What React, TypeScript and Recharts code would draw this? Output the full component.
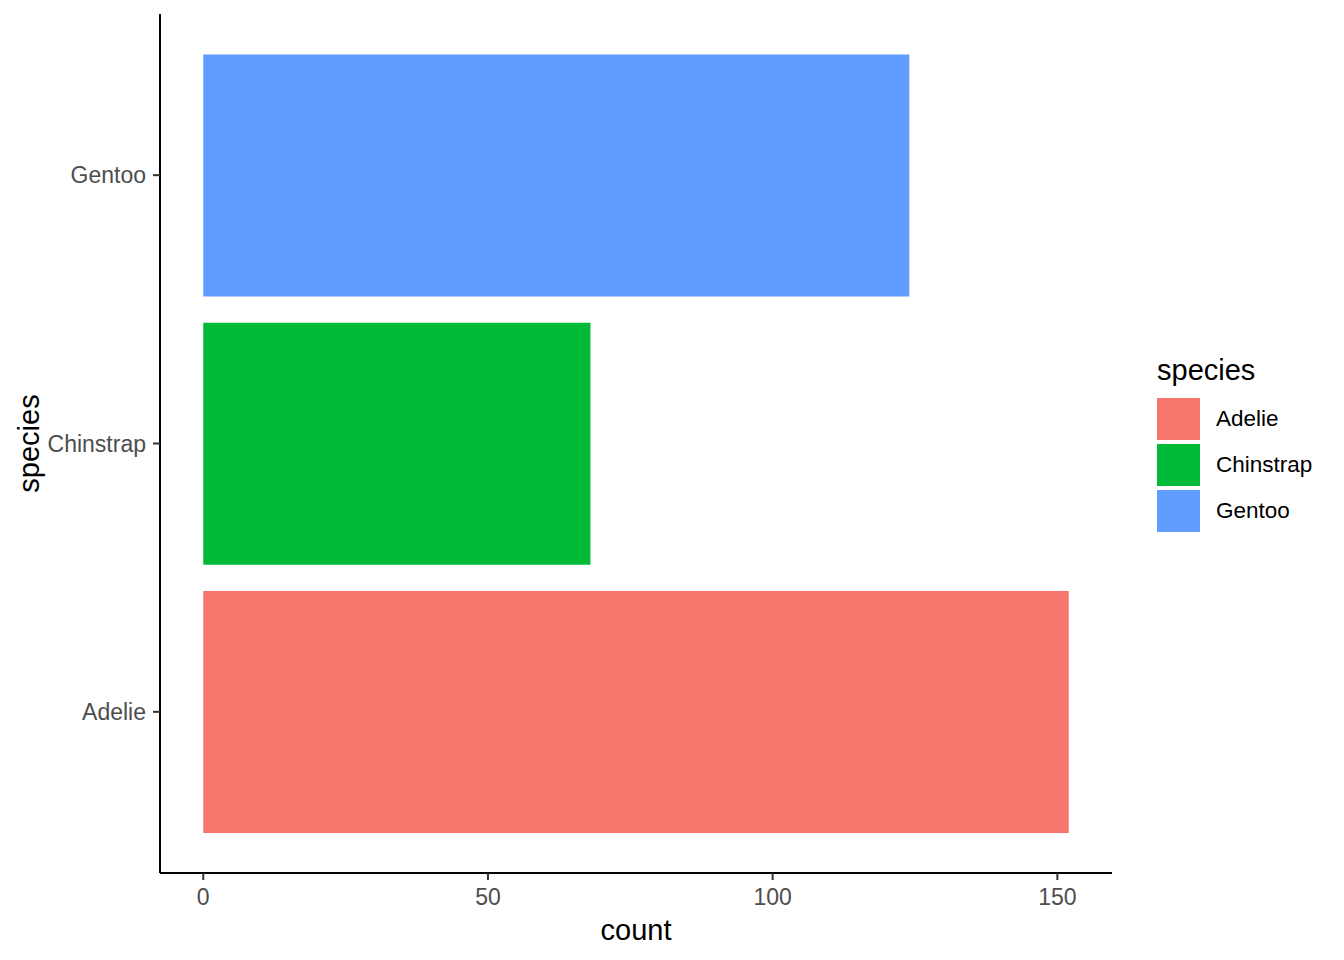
import { BarChart, Bar, Cell, XAxis, YAxis, Legend } from 'recharts';

const SPECIES = ['Adelie', 'Chinstrap', 'Gentoo'];
const COUNTS = [152, 68, 124];
const COLORS = ['#F8766D', '#00BA38', '#619CFF'];
const X_TICKS = [0, 50, 100, 150];

const FONT = '"Liberation Sans", Arial, sans-serif';

const chartData = SPECIES.map((s, i) => ({ species: s, count: COUNTS[i], color: COLORS[i] }));

const renderLegend = () => (
  <div style={{ fontFamily: FONT, color: '#000', textAlign: 'left' }}>
    <div style={{ fontSize: 29, lineHeight: '32px', marginBottom: 10, marginTop: 2 }}>species</div>
    {SPECIES.map((s, i) => (
      <div key={`legend-${i}`} style={{ display: 'flex', alignItems: 'center', height: 46 }}>
        <div style={{ width: 43, height: 42, backgroundColor: COLORS[i] }} />
        <span style={{ fontSize: 22.5, marginLeft: 16 }}>{s}</span>
      </div>
    ))}
  </div>
);

export default function App() {
  return (
    <div style={{ position: 'absolute', left: 0, top: 0, width: 1344, height: 960, background: '#fff' }}>
      <BarChart
        width={1344}
        height={960}
        data={chartData}
        layout="vertical"
        margin={{ top: 14, right: 232, bottom: 0, left: 0 }}
        barCategoryGap="5%"
      >
        <XAxis
          type="number"
          dataKey="count"
          domain={[-7.6, 159.6]}
          ticks={X_TICKS}
          allowDataOverflow
          height={87}
          axisLine={{ stroke: '#000', strokeWidth: 2 }}
          tickLine={{ stroke: '#333', strokeWidth: 2 }}
          tickSize={7}
          tickMargin={9}
          tick={{ fill: '#4D4D4D', fontSize: 23, fontFamily: FONT }}
          label={{
            content: ({ viewBox }: any) => (
              <text
                x={viewBox.x + viewBox.width / 2}
                y={viewBox.y + 67}
                textAnchor="middle"
                fontSize={29}
                fontFamily={FONT}
                fill="#000"
              >
                count
              </text>
            ),
          }}
        />
        <YAxis
          type="category"
          dataKey="species"
          reversed
          width={160}
          padding={{ top: 27, bottom: 27 }}
          axisLine={{ stroke: '#000', strokeWidth: 2 }}
          tickLine={{ stroke: '#333', strokeWidth: 2 }}
          tickSize={7}
          tickMargin={7}
          tick={{ fill: '#4D4D4D', fontSize: 23, fontFamily: FONT }}
          label={{
            content: ({ viewBox }: any) => {
              const cx = 39;
              const cy = viewBox.y + viewBox.height / 2;
              return (
                <text
                  x={cx}
                  y={cy}
                  transform={`rotate(-90, ${cx}, ${cy})`}
                  textAnchor="middle"
                  fontSize={29}
                  fontFamily={FONT}
                  fill="#000"
                >
                  species
                </text>
              );
            },
          }}
        />
        <Legend
          content={renderLegend}
          layout="horizontal"
          align="center"
          verticalAlign="middle"
          wrapperStyle={{ left: 1157, top: 352, width: 186 }}
        />
        <Bar dataKey="count" isAnimationActive={false}>
          {chartData.map((entry, index) => (
            <Cell key={`cell-${index}`} fill={entry.color} />
          ))}
        </Bar>
      </BarChart>
    </div>
  );
}
